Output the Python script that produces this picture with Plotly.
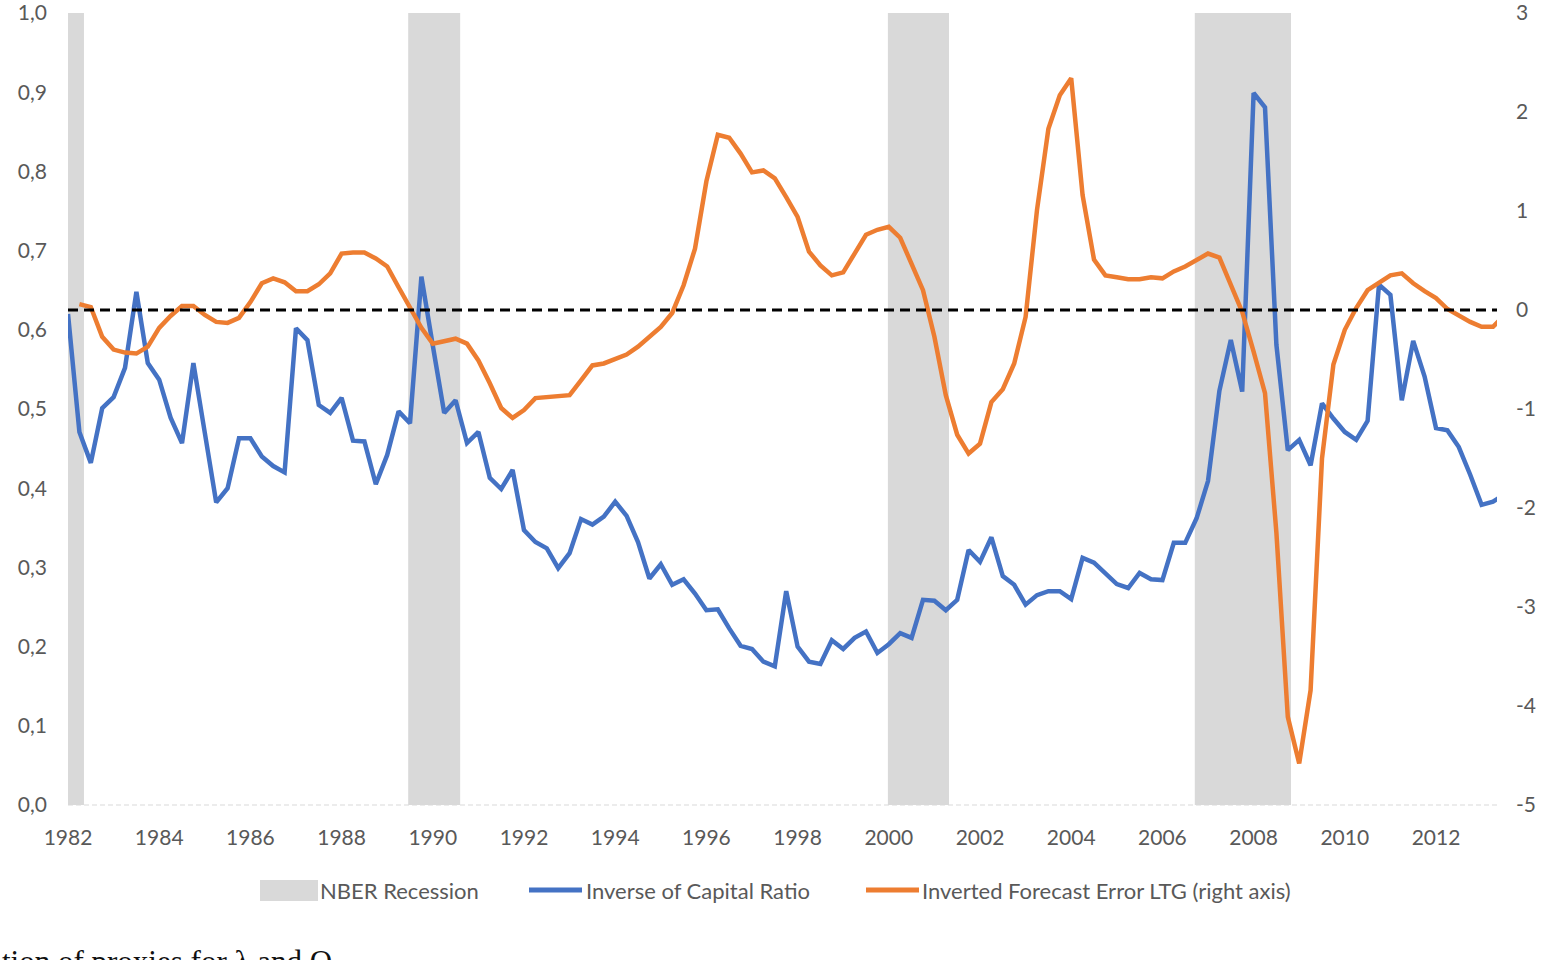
import plotly.graph_objects as go

# ---------------- data (quarterly, starting 1982Q1) ----------------
start_year = 1982.0
inverse_capital_ratio = [
    0.62, 0.471, 0.432, 0.501, 0.515, 0.552, 0.648, 0.558, 0.537, 0.489,
    0.457, 0.558, 0.470, 0.382, 0.400, 0.463, 0.463, 0.440, 0.428, 0.420,
    0.602, 0.587, 0.505, 0.495, 0.514, 0.460, 0.459, 0.405, 0.442, 0.497,
    0.482, 0.667, 0.580, 0.495, 0.511, 0.457, 0.471, 0.413, 0.399, 0.423,
    0.347, 0.332, 0.324, 0.299, 0.318, 0.361, 0.354, 0.364, 0.383, 0.365,
    0.332, 0.286, 0.304, 0.278, 0.285, 0.267, 0.246, 0.247, 0.223, 0.201,
    0.197, 0.181, 0.175, 0.270, 0.200, 0.181, 0.178, 0.208, 0.197, 0.211,
    0.219, 0.192, 0.203, 0.217, 0.211, 0.259, 0.258, 0.246, 0.259, 0.322,
    0.307, 0.338, 0.289, 0.278, 0.253, 0.265, 0.270, 0.270, 0.260, 0.312,
    0.306, 0.293, 0.279, 0.274, 0.293, 0.285, 0.284, 0.331, 0.331, 0.362,
    0.409, 0.523, 0.587, 0.522, 0.899, 0.881, 0.581, 0.448, 0.461, 0.429,
    0.507, 0.488, 0.471, 0.461, 0.485, 0.657, 0.644, 0.511, 0.586, 0.541,
    0.476, 0.473, 0.452, 0.417, 0.379, 0.383, 0.392,
]
inverted_forecast_error_ltg = [
    None, 0.06, 0.03, -0.27, -0.40, -0.43, -0.44, -0.37, -0.18, -0.06,
    0.04, 0.04, -0.05, -0.12, -0.13, -0.08, 0.08, 0.27, 0.32, 0.28,
    0.19, 0.19, 0.26, 0.37, 0.57, 0.58, 0.58, 0.52, 0.44, 0.23,
    0.02, -0.18, -0.34, -0.32, -0.29, -0.34, -0.51, -0.74, -0.99, -1.09,
    -1.01, -0.89, -0.88, -0.87, -0.86, -0.71, -0.56, -0.54, -0.49, -0.45,
    -0.37, -0.27, -0.17, -0.03, 0.25, 0.62, 1.30, 1.77, 1.74, 1.58,
    1.39, 1.41, 1.33, 1.14, 0.94, 0.59, 0.45, 0.35, 0.38, 0.57,
    0.76, 0.81, 0.84, 0.73, 0.47, 0.20, -0.27, -0.86, -1.26, -1.45,
    -1.35, -0.93, -0.80, -0.54, -0.07, 1.01, 1.83, 2.17, 2.34, 1.16,
    0.51, 0.35, 0.33, 0.31, 0.31, 0.33, 0.32, 0.39, 0.44, 0.50,
    0.57, 0.53, 0.25, -0.02, -0.42, -0.84, -2.25, -4.11, -4.58, -3.84,
    -1.50, -0.55, -0.20, 0.02, 0.20, 0.28, 0.35, 0.37, 0.27, 0.19,
    0.12, 0.01, -0.06, -0.12, -0.17, -0.17, -0.05,
]
recession_start = [1982.0, 1989.46, 1999.98, 2006.71]
recession_end = [1982.35, 1990.60, 2001.32, 2008.82]
year_ticks = list(range(1982, 2013, 2))
left_ticks = [round(0.1 * i, 1) for i in range(11)]
right_ticks = list(range(-5, 4))

quarters = [start_year + 0.25 * i for i in range(len(inverse_capital_ratio))]

# ---------------- styling ----------------
BLUE = "#4472C4"
ORANGE = "#ED7D31"
GREY = "#D9D9D9"
TXT = "#595959"
FONT = "Lato"
W, H = 1553, 960
L, R, T, B = 68, 1497, 13, 805  # plot area in pixels


def px(x):
    return (x - L) / (R - L)


def py(y):
    return (B - y) / (B - T)


fig = go.Figure()
fig.add_trace(go.Scatter(
    x=quarters, y=inverse_capital_ratio, mode="lines", name="Inverse of Capital Ratio",
    line=dict(color=BLUE, width=4.5), yaxis="y", showlegend=False))
fig.add_trace(go.Scatter(
    x=quarters, y=inverted_forecast_error_ltg, mode="lines",
    name="Inverted Forecast Error LTG (right axis)",
    line=dict(color=ORANGE, width=4.5), yaxis="y2", showlegend=False))

shapes = []
for s, e in zip(recession_start, recession_end):
    shapes.append(dict(type="rect", xref="x", yref="paper", x0=s, x1=e, y0=0, y1=1,
                       fillcolor=GREY, line=dict(width=0), layer="below"))
# baseline dashed grey
shapes.append(dict(type="line", xref="paper", yref="paper", x0=0, x1=1, y0=0, y1=0,
                   line=dict(color="#D9D9D9", width=1.2, dash="5px,3px"), layer="below"))
# zero line of right axis
shapes.append(dict(type="line", xref="paper", yref="y2", x0=0, x1=1, y0=0, y1=0,
                   line=dict(color="black", width=3, dash="10px,6px")))

# manual legend
leg_y = 890
shapes.append(dict(type="rect", xref="paper", yref="paper",
                   x0=px(260), x1=px(318), y0=py(901), y1=py(880),
                   fillcolor=GREY, line=dict(width=0)))
shapes.append(dict(type="line", xref="paper", yref="paper",
                   x0=px(529), x1=px(582), y0=py(leg_y), y1=py(leg_y),
                   line=dict(color=BLUE, width=5)))
shapes.append(dict(type="line", xref="paper", yref="paper",
                   x0=px(866), x1=px(919), y0=py(leg_y), y1=py(leg_y),
                   line=dict(color=ORANGE, width=5)))

annotations = []
for xpix, txt in [(318, "NBER Recession"), (584, "Inverse of Capital Ratio"),
                  (920, "Inverted Forecast Error LTG (right axis)")]:
    annotations.append(dict(xref="paper", yref="paper", x=px(xpix), y=py(leg_y),
                            text=txt, showarrow=False, xanchor="left", yanchor="middle",
                            font=dict(family=FONT, size=22, color=TXT)))
# cropped caption from the page below the chart (cut by the page edge, as in the source)
annotations.append(dict(xref="paper", yref="paper", x=px(0), y=py(942),
                        text="tion of proxies for λ and Q", showarrow=False,
                        xanchor="left", yanchor="top",
                        font=dict(family="Liberation Serif", size=31, color="#111111")))

axis_common = dict(showgrid=False, zeroline=False, showline=False, ticks="",
                   automargin=False, ticklabeloverflow="allow",
                   tickfont=dict(family=FONT, size=21, color=TXT))

fig.update_layout(
    width=W, height=H,
    margin=dict(l=L, r=W - R, t=T, b=H - B, autoexpand=False),
    paper_bgcolor="white", plot_bgcolor="white",
    separators=", ",
    showlegend=False,
    font=dict(family=FONT, size=20, color=TXT),
    xaxis=dict(range=[1982, 1982 + (R - L) / 45.6], tickmode="array",
               tickvals=year_ticks, ticktext=[str(y) for y in year_ticks],
               ticklabelstandoff=18, **axis_common),
    yaxis=dict(range=[0, 1], tickmode="array", tickvals=left_ticks,
               ticktext=[f"{v:.1f}".replace(".", ",") for v in left_ticks],
               ticklabelstandoff=20, **axis_common),
    yaxis2=dict(range=[-5, 3], tickmode="array", tickvals=right_ticks,
                ticktext=[str(v) for v in right_ticks], overlaying="y",
                side="right", ticklabelstandoff=18, **axis_common),
    shapes=shapes,
    annotations=annotations,
)

fig.write_html("out.html")
